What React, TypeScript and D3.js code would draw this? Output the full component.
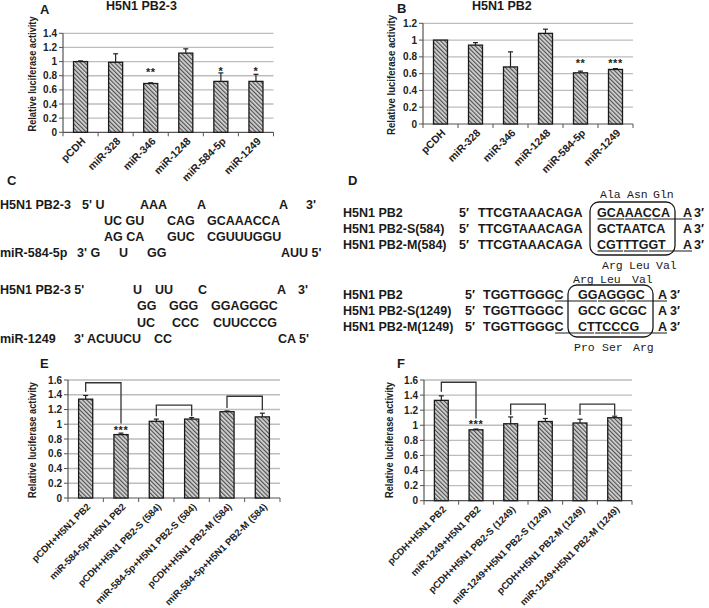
import React from "react";
import * as d3 from "d3";

// ---------- DATA ----------
const catsAB = ["pCDH", "miR-328", "miR-346", "miR-1248", "miR-584-5p", "miR-1249"];
const valsA = [1.0, 0.99, 0.69, 1.12, 0.72, 0.72];
const errsA = [0.01, 0.12, 0.01, 0.06, 0.12, 0.1];
const starsA = ["", "", "**", "", "*", "*"];
const starPosA = [0, 0, 0.88, 0, 0.89, 0.89];

const valsB = [1.0, 0.94, 0.68, 1.08, 0.61, 0.65];
const errsB = [0, 0.03, 0.18, 0.05, 0.02, 0.01];
const starsB = ["", "", "", "", "**", "***"];
const starPosB = [0, 0, 0, 0, 0.75, 0.75];

const catsE = [
  "pCDH+H5N1 PB2",
  "miR-584-5p+H5N1 PB2",
  "pCDH+H5N1 PB2-S (584)",
  "miR-584-5p+H5N1 PB2-S (584)",
  "pCDH+H5N1 PB2-M (584)",
  "miR-584-5p+H5N1 PB2-M (584)",
];
const valsE = [1.34, 0.86, 1.04, 1.07, 1.17, 1.1];
const errsE = [0.05, 0.02, 0.03, 0.02, 0.01, 0.05];
const starsE = ["", "***", "", "", "", ""];
const starPosE = [0, 0.95, 0, 0, 0, 0];
const bracketsE = [
  { a: 0, b: 1, top: 1.563, l: 1.44, r: 1.01 },
  { a: 2, b: 3, top: 1.26, l: 1.11, r: 1.11 },
  { a: 4, b: 5, top: 1.38, l: 1.22, r: 1.19 },
];

const catsF = [
  "pCDH+H5N1 PB2",
  "miR-1249+H5N1 PB2",
  "pCDH+H5N1 PB2-S (1249)",
  "miR-1249+H5N1 PB2-S (1249)",
  "pCDH+H5N1 PB2-M (1249)",
  "miR-1249+H5N1 PB2-M (1249)",
];
const valsF = [1.33, 0.94, 1.02, 1.05, 1.03, 1.1];
const errsF = [0.06, 0.01, 0.09, 0.04, 0.05, 0.02];
const starsF = ["", "***", "", "", "", ""];
const starPosF = [0, 1.04, 0, 0, 0, 0];
const bracketsF = [
  { a: 0, b: 1, top: 1.57, l: 1.445, r: 1.09 },
  { a: 2, b: 3, top: 1.28, l: 1.135, r: 1.135 },
  { a: 4, b: 5, top: 1.28, l: 1.135, r: 1.13 },
];

const SANS = "'Liberation Sans', Arial, sans-serif";
const MONO = "'Liberation Mono', 'Courier New', monospace";

type Bracket = { a: number; b: number; top: number; l: number; r: number };

function BarPanel(p: {
  x0: number; x1: number; yBot: number; yTop: number; max: number;
  cats: string[]; vals: number[]; errs: number[]; stars: string[]; starPos: number[];
  brackets?: Bracket[]; ylabX: number; ylabY: number; ylabLen: number; xfs: number;
}) {
  const x = d3.scaleBand<string>().domain(p.cats).range([p.x0, p.x1]).paddingInner(0.6).paddingOuter(0.3);
  const y = d3.scaleLinear().domain([0, p.max]).range([p.yBot, p.yTop]);
  const ticks = d3.range(0, p.max + 0.001, 0.2);
  const step = (p.x1 - p.x0) / p.cats.length;
  const cx = (i: number) => (x(p.cats[i]) as number) + x.bandwidth() / 2;
  return (
    <g>
      {ticks.map((t, i) => (
        <g key={"t" + i}>
          {i > 0 && <line x1={p.x0} x2={p.x1} y1={y(t)} y2={y(t)} stroke="#bdbdbd" strokeWidth={1.3} />}
          <line x1={p.x0 - 4} x2={p.x0} y1={y(t)} y2={y(t)} stroke="#555" strokeWidth={1} />
          <text x={p.x0 - 6} y={y(t)} dy="0.35em" textAnchor="end" fontFamily={SANS} fontWeight="bold" fontSize={10} fill="#222">
            {String(+t.toFixed(1))}
          </text>
        </g>
      ))}
      <line x1={p.x0} x2={p.x0} y1={p.yBot} y2={p.yTop} stroke="#555" strokeWidth={1.2} />
      <line x1={p.x0} x2={p.x1} y1={p.yBot} y2={p.yBot} stroke="#555" strokeWidth={1.2} />
      {d3.range(0, p.cats.length + 1).map((i) => (
        <line key={"c" + i} x1={p.x0 + i * step} x2={p.x0 + i * step} y1={p.yBot} y2={p.yBot + 4} stroke="#555" strokeWidth={1} />
      ))}
      {p.cats.map((c, i) => {
        const v = p.vals[i];
        const e = p.errs[i];
        const xc = cx(i);
        return (
          <g key={c}>
            {e > 0 && (
              <g stroke="#222" strokeWidth={1.2}>
                <line x1={xc} x2={xc} y1={y(v)} y2={y(v + e)} />
                <line x1={xc - 2.5} x2={xc + 2.5} y1={y(v + e)} y2={y(v + e)} />
              </g>
            )}
            <rect x={x(c)} y={y(v)} width={x.bandwidth()} height={p.yBot - y(v)} fill="url(#hatch)" stroke="#1a1a1a" strokeWidth={1.3} />
            {p.stars[i] && (
              <text x={xc} y={y(p.starPos[i]) + 6} textAnchor="middle" fontFamily={SANS} fontWeight="bold" fontSize={11} letterSpacing={0.5} fill="#222">
                {p.stars[i]}
              </text>
            )}
            <text transform={`translate(${xc + 3},${p.yBot + 7}) rotate(-45)`} dy="0.35em" textAnchor="end" fontFamily={SANS} fontWeight="bold" fontSize={p.xfs} fill="#222">
              {c}
            </text>
          </g>
        );
      })}
      {(p.brackets || []).map((b, i) => (
        <path key={"b" + i}
          d={`M${cx(b.a)},${y(b.l)}V${y(b.top)}H${cx(b.b)}V${y(b.r)}`}
          fill="none" stroke="#333" strokeWidth={1.3} />
      ))}
      <text transform={`translate(${p.ylabX},${p.ylabY}) rotate(-90)`} textAnchor="middle" dy="0.35em" fontFamily={SANS} fontWeight="bold" fontSize={10.5} textLength={p.ylabLen} lengthAdjust="spacingAndGlyphs" fill="#222">
        Relative luciferase activity
      </text>
    </g>
  );
}

// ---------- Panel C text ----------
const cRows: [number, number, string][] = [
  [0, 209, "H5N1 PB2-3"], [82, 209, "5' U"], [140, 209, "AAA"], [197, 209, "A"], [279, 209, "A"], [306, 209, "3'"],
  [104, 225, "UC GU"], [167, 225, "CAG"], [207, 225, "GCAAACCA"],
  [104, 241, "AG CA"], [167, 241, "GUC"], [207, 241, "CGUUUGGU"],
  [0, 257, "miR-584-5p"], [77, 257, "3' G"], [119, 257, "U"], [147, 257, "GG"], [281, 257, "AUU 5'"],
  [0, 294, "H5N1 PB2-3 5'"], [133, 294, "U"], [155, 294, "UU"], [198, 294, "C"], [277, 294, "A"], [298, 294, "3'"],
  [137, 310, "GG"], [169, 310, "GGG"], [211, 310, "GGAGGGC"],
  [137, 327, "UC"], [172, 327, "CCC"], [213, 327, "CUUCCCG"],
  [0, 343, "miR-1249"], [74, 343, "3' ACUUCU"], [154, 343, "CC"], [278, 343, "CA 5'"],
];

// ---------- Panel D ----------
const FS_D = 12.5;
const W: Record<string, number> = { A: 0.722, C: 0.722, G: 0.778, T: 0.611, " ": 0.278 };
const wOf = (s: string) => s.split("").reduce((a, ch) => a + (W[ch] || 0.7) * FS_D, 0);
const posOf = (s: string, i: number) => wOf(s.slice(0, i));

type DRow = { label: string; seq: string; pre?: boolean; segs: [number, number][]; ext?: boolean };
type DBlock = {
  y0: number; primeX: number; flankX: number; flank: string; boxX: number; boxW: number; boxY: number; boxH: number;
  inX: number; aX: number; threeX: number; rows: DRow[]; topAA: [number, string][]; botAA: [number, string][]; topY: number; botY: number;
};
const dBlocks: DBlock[] = [
  {
    y0: 216.5, primeX: 459, flankX: 478, flank: "TTCGTAAACAGA", boxX: 590, boxW: 85, boxY: 202, boxH: 53,
    inX: 597, aX: 683, threeX: 694,
    rows: [
      { label: "H5N1 PB2", seq: "GCAAACCA", segs: [[0, 3], [3, 6], [6, 8]], ext: true },
      { label: "H5N1 PB2-S(584)", seq: "GCTAATCA", segs: [] },
      { label: "H5N1 PB2-M(584)", seq: "CGTTTGGT", segs: [[0, 3], [3, 6], [6, 8]], ext: true },
    ],
    topAA: [[600, "Ala"], [627, "Asn"], [653, "Gln"]], botAA: [[602, "Arg"], [629, "Leu"], [656, "Val"]],
    topY: 198, botY: 269,
  },
  {
    y0: 298.5, primeX: 465, flankX: 483, flank: "TGGTTGGGC", boxX: 568, boxW: 85, boxY: 285, boxH: 52,
    inX: 578, aX: 658, threeX: 670,
    rows: [
      { label: "H5N1 PB2", seq: "GGAGGGC", pre: true, segs: [[0, 2], [2, 5], [5, 7]], ext: true },
      { label: "H5N1 PB2-S(1249)", seq: "GCC GCGC", segs: [] },
      { label: "H5N1 PB2-M(1249)", seq: "CTTCCCG", pre: true, segs: [[0, 2], [2, 5], [5, 7]], ext: true },
    ],
    topAA: [[573, "Arg"], [600, "Leu"], [632, "Val"]], botAA: [[574, "Pro"], [602, "Ser"], [633, "Arg"]],
    topY: 283, botY: 351,
  },
];

function PanelD() {
  return (
    <g fontFamily={SANS} fontWeight="bold" fontSize={FS_D} fill="#1a1a1a">
      {dBlocks.map((b, bi) => (
        <g key={bi}>
          <rect x={b.boxX} y={b.boxY} width={b.boxW} height={b.boxH} rx={9} fill="none" stroke="#1a1a1a" strokeWidth={1.3} />
          {b.rows.map((r, ri) => {
            const yy = b.y0 + ri * 16;
            const ul = yy + 2.5;
            const flankEnd = b.flankX + wOf(b.flank);
            return (
              <g key={ri}>
                <text x={343} y={yy}>{r.label}</text>
                <text x={b.primeX} y={yy}>5′</text>
                <text x={b.flankX} y={yy}>{b.flank}</text>
                <text x={b.inX} y={yy}>{r.seq}</text>
                <text x={b.aX} y={yy}>A</text>
                <text x={b.threeX} y={yy}>3′</text>
                {r.segs.map(([i, j], si) => {
                  let xa = b.inX + posOf(r.seq, i) + 0.5;
                  let xb = b.inX + posOf(r.seq, j) - 0.5;
                  if (si === 0 && r.pre) xa = flankEnd - 8.5;
                  if (si === r.segs.length - 1 && r.ext) xb = b.aX + 9;
                  return <line key={si} x1={xa} x2={xb} y1={ul} y2={ul} stroke="#1a1a1a" strokeWidth={1.1} />;
                })}
              </g>
            );
          })}
          {b.topAA.map(([x, t], i) => (
            <text key={"ta" + i} x={x} y={b.topY} fontFamily={MONO} fontWeight="normal" fontSize={11.5}>{t}</text>
          ))}
          {b.botAA.map(([x, t], i) => (
            <text key={"ba" + i} x={x} y={b.botY} fontFamily={MONO} fontWeight="normal" fontSize={11.5}>{t}</text>
          ))}
        </g>
      ))}
    </g>
  );
}

export default function App() {
  return (
    <svg width={709} height={608} viewBox="0 0 709 608" style={{ position: "absolute", left: 0, top: 0, background: "#fff" }}>
      <defs>
        <pattern id="hatch" patternUnits="userSpaceOnUse" width={3} height={3} patternTransform="rotate(-45)">
          <rect width={3} height={3} fill="#d6d6d6" />
          <line x1={0.6} y1={0} x2={0.6} y2={3} stroke="#505050" strokeWidth={1.2} />
        </pattern>
      </defs>
      <rect width={709} height={608} fill="#fff" />
      <g fontFamily={SANS} fontWeight="bold" fill="#1a1a1a">
        <text x={40} y={14} fontSize={13}>A</text>
        <text x={106} y={10} fontSize={12.5}>H5N1 PB2-3</text>
        <text x={397} y={13} fontSize={13}>B</text>
        <text x={472} y={10} fontSize={12.5}>H5N1 PB2</text>
        <text x={7} y={185} fontSize={13}>C</text>
        <text x={348} y={185} fontSize={13}>D</text>
        <text x={40} y={368} fontSize={13}>E</text>
        <text x={397} y={368} fontSize={13}>F</text>
      </g>
      <BarPanel x0={63} x1={273.5} yBot={132.3} yTop={33.3} max={1.4} cats={catsAB} vals={valsA} errs={errsA}
        stars={starsA} starPos={starPosA} ylabX={32} ylabY={74} ylabLen={115} xfs={10.5} />
      <BarPanel x0={423} x1={633} yBot={124} yTop={23.3} max={1.2} cats={catsAB} vals={valsB} errs={errsB}
        stars={starsB} starPos={starPosB} ylabX={391} ylabY={75} ylabLen={120} xfs={10.5} />
      <BarPanel x0={68} x1={280} yBot={498} yTop={380} max={1.6} cats={catsE} vals={valsE} errs={errsE}
        stars={starsE} starPos={starPosE} brackets={bracketsE} ylabX={32} ylabY={440} ylabLen={116} xfs={9.6} />
      <BarPanel x0={424} x1={632} yBot={500.7} yTop={380} max={1.6} cats={catsF} vals={valsF} errs={errsF}
        stars={starsF} starPos={starPosF} brackets={bracketsF} ylabX={389} ylabY={440} ylabLen={116} xfs={9.6} />
      <g fontFamily={SANS} fontWeight="bold" fontSize={12.5} fill="#1a1a1a">
        {cRows.map(([x, y, t], i) => (
          <text key={i} x={x} y={y}>{t}</text>
        ))}
      </g>
      <PanelD />
    </svg>
  );
}
